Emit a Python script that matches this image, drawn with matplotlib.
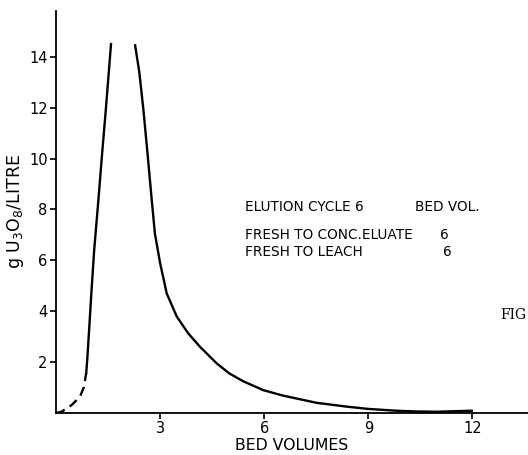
import matplotlib
matplotlib.use("Agg")
import matplotlib.pyplot as plt

plt.rcParams['font.family'] = ['DejaVu Sans']
plt.rcParams['mathtext.default'] = 'regular'

# Dashed start of the elution curve
dash_x = [0.0, 0.16, 0.45, 0.69, 0.80, 0.87]
dash_y = [0.0, 0.05, 0.31, 0.64, 1.0, 1.57]

# Rising limb (solid)
rise_x = [0.87, 0.90, 0.96, 1.03, 1.10, 1.22, 1.32, 1.44, 1.585]
rise_y = [1.57, 2.08, 3.4, 4.95, 6.4, 8.35, 10.05, 12.0, 14.5]

# Falling limb (solid)
fall_x = [2.28, 2.40, 2.52, 2.63, 2.76, 2.85, 3.0, 3.19, 3.48, 3.81, 4.15,
          4.63, 5.0, 5.39, 5.97, 6.55, 7.51, 8.38, 9.0, 9.8, 10.4, 11.0, 11.98]
fall_y = [14.45, 13.4, 11.9, 10.3, 8.35, 7.05, 5.89, 4.7, 3.79, 3.13, 2.6,
          1.95, 1.55, 1.25, 0.9, 0.68, 0.4, 0.25, 0.16, 0.09, 0.06, 0.05, 0.09]

x_ticks = [3, 6, 9, 12]
y_ticks = [2, 4, 6, 8, 10, 12, 14]

fig = plt.figure(figsize=(5.28, 4.55), dpi=100)
ax = fig.add_axes([56/528, 42/455, 1 - 56/528, (413 - 11)/455])

lw = 1.7
ax.plot(dash_x, dash_y, color='black', lw=lw, linestyle=(0, (4, 2.5)))
ax.plot(rise_x, rise_y, color='black', lw=lw)
ax.plot(fall_x, fall_y, color='black', lw=lw)

ax.set_xlim(0, 13.6)
ax.set_ylim(0, 15.8)
ax.spines['top'].set_visible(False)
ax.spines['right'].set_visible(False)
ax.spines['left'].set_linewidth(1.3)
ax.spines['bottom'].set_linewidth(1.3)
ax.set_xticks(x_ticks)
ax.set_yticks(y_ticks)
ax.tick_params(axis='both', direction='out', length=4, width=1.2, labelsize=10.5, pad=2)

ax.set_xlabel('BED VOLUMES', fontsize=11.3, labelpad=1)
ax.set_ylabel('g U$_3$O$_8$/LITRE', fontsize=12.5, labelpad=2)

def px(xp, yp):
    return ((xp - 56) / (528 - 56) * 13.6, (413 - yp) / (413 - 11) * 15.8)

fs = 9.8
ax.text(*px(245, 207), 'ELUTION CYCLE 6', fontsize=fs, va='center', ha='left')
ax.text(*px(415, 207), 'BED VOL.', fontsize=fs, va='center', ha='left')
ax.text(*px(245, 235), 'FRESH TO CONC.ELUATE', fontsize=fs, va='center', ha='left')
ax.text(*px(440, 235), '6', fontsize=fs, va='center', ha='left')
ax.text(*px(245, 252), 'FRESH TO LEACH', fontsize=fs, va='center', ha='left')
ax.text(*px(443, 252), '6', fontsize=fs, va='center', ha='left')
ax.text(*px(500, 315), 'FIG', fontsize=10, va='center', ha='left', family='DejaVu Serif')

fig.savefig('out.png', dpi=100)
